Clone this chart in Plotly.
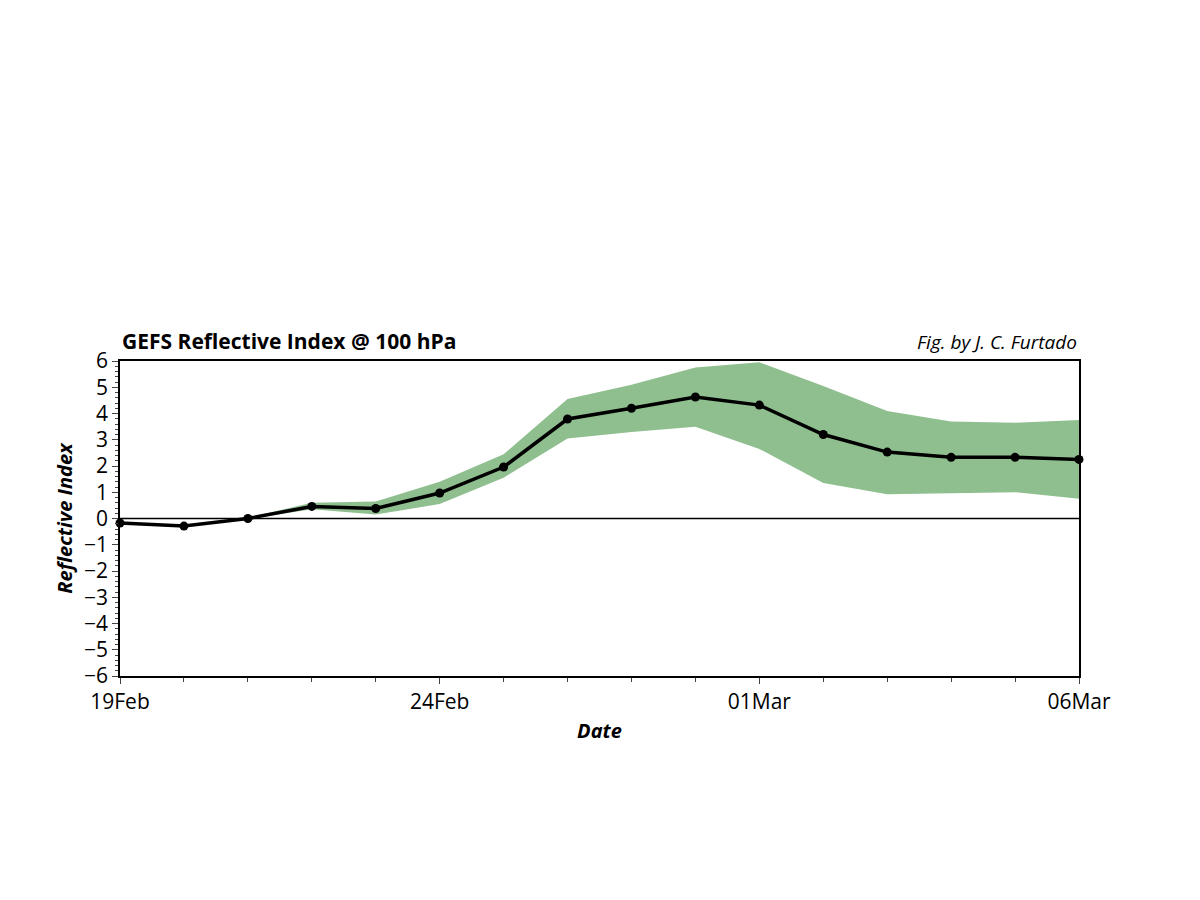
import plotly.graph_objects as go
import pandas as pd

dates = pd.date_range("2023-02-19", "2023-03-06", freq="D")
mean_vals = [-0.17, -0.29, 0.0, 0.46, 0.38, 0.97, 1.96, 3.79, 4.2, 4.63, 4.32, 3.2, 2.53, 2.33, 2.33, 2.25]
upper_vals = [-0.15, -0.25, 0.03, 0.6, 0.65, 1.4, 2.45, 4.55, 5.1, 5.75, 5.95, 5.05, 4.1, 3.7, 3.65, 3.75]
lower_vals = [-0.22, -0.32, -0.03, 0.35, 0.15, 0.55, 1.55, 3.05, 3.3, 3.5, 2.65, 1.35, 0.92, 0.95, 1.0, 0.75]
tick_dates = ["2023-02-19", "2023-02-24", "2023-03-01", "2023-03-06"]
tick_text = ["19Feb", "24Feb", "01Mar", "06Mar"]
font = "Open Sans"

fig = go.Figure()
fig.add_trace(go.Scatter(x=dates, y=upper_vals, mode="lines", line=dict(width=0), showlegend=False))
fig.add_trace(go.Scatter(x=dates, y=lower_vals, mode="lines", line=dict(width=0), fill="tonexty",
                         fillcolor="#8fbf8f", showlegend=False))
fig.add_hline(y=0, line=dict(color="black", width=1.5))
fig.add_trace(go.Scatter(x=dates, y=mean_vals, mode="lines+markers", line=dict(color="black", width=3.5),
                         marker=dict(color="black", size=9), cliponaxis=False, showlegend=False))

fig.update_layout(
    width=1200, height=900, plot_bgcolor="white", paper_bgcolor="white",
    margin=dict(l=112, r=129, t=353, b=232),
    font=dict(family=font, size=21, color="black"),
    annotations=[
        dict(text="<b>GEFS Reflective Index @ 100 hPa</b>", x=0, y=1, xref="paper", yref="paper",
             xanchor="left", yanchor="bottom", yshift=4, showarrow=False, font=dict(size=21)),
        dict(text="<i>Fig. by J. C. Furtado</i>", x=1, y=1, xref="paper", yref="paper",
             xanchor="right", yanchor="bottom", yshift=4, showarrow=False, font=dict(size=19)),
    ],
)
fig.update_xaxes(range=[dates[0], dates[-1]], tickvals=tick_dates, ticktext=tick_text,
                 ticks="outside", ticklen=6, showgrid=False, showline=True, mirror=True,
                 linecolor="black", linewidth=1.5,
                 minor=dict(dtick=86400000, ticks="outside", ticklen=4, tick0="2023-02-19"),
                 title=dict(text="<b><i>Date</i></b>", font=dict(size=20), standoff=10))
fig.update_yaxes(range=[-6, 6], dtick=1, ticks="outside", ticklen=6, showgrid=False, zeroline=False,
                 showline=True, mirror=True, linecolor="black", linewidth=1.5,
                 minor=dict(dtick=0.2, ticks="outside", ticklen=3),
                 title=dict(text="<b><i>Reflective Index</i></b>", font=dict(size=20), standoff=6))
fig.write_html("out.html")
